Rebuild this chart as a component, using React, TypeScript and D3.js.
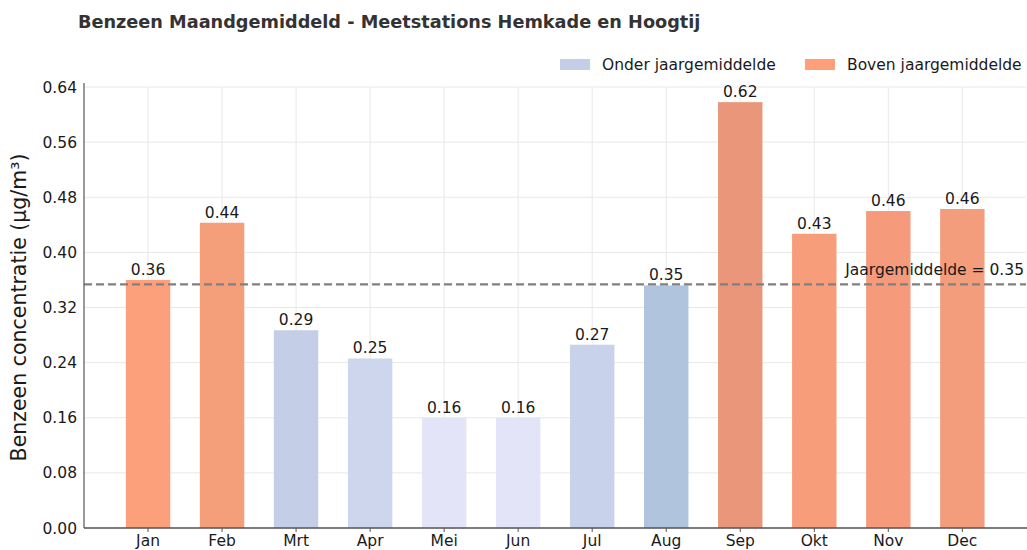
import React, {useEffect, useRef} from 'react';
import * as d3 from 'd3';

const months = ['Jan', 'Feb', 'Mrt', 'Apr', 'Mei', 'Jun', 'Jul', 'Aug', 'Sep', 'Okt', 'Nov', 'Dec'];
const values = [0.36, 0.443, 0.287, 0.246, 0.16, 0.16, 0.266, 0.352, 0.618, 0.427, 0.46, 0.463];
const barColors = ['#FBA07A', '#F59E7A', '#C4CFE7', '#CED6EE', '#E3E4F7', '#E3E4F7', '#C8D2EB', '#B0C4DE', '#E9967A', '#F89D7A', '#F59B7B', '#F49D7C'];
const yTicks = [0, 0.08, 0.16, 0.24, 0.32, 0.40, 0.48, 0.56, 0.64];
const legendItems = [
    {label: 'Onder jaargemiddelde', color: '#C4CFE7'},
    {label: 'Boven jaargemiddelde', color: '#FFA07A'},
];

const W = 1027;
const H = 550;
const margin = {left: 84, right: 1, top: 80, bottom: 22};

export default function App() {
    const ref = useRef<SVGSVGElement>(null);

    useEffect(() => {
        const svg = d3.select(ref.current);
        svg.selectAll('*').remove();
        const font = 'DejaVu Sans, sans-serif';
        const fs = 15.5;

        const x = d3.scaleLinear().domain([-0.865, 11.86]).range([margin.left, W - margin.right]);
        const y = d3.scaleLinear().domain([0, 0.64]).range([H - margin.bottom, 87]);
        const mean = d3.mean(values) as number;
        const bw = x(0.6) - x(0);

        const g = svg.append('g');

        // grid
        g.selectAll('line.gy').data(yTicks).enter().append('line')
            .attr('x1', margin.left).attr('x2', W - margin.right)
            .attr('y1', d => y(d)).attr('y2', d => y(d))
            .attr('stroke', '#e8e8e8').attr('stroke-width', 1);
        g.selectAll('line.gx').data(months).enter().append('line')
            .attr('x1', (d, i) => x(i)).attr('x2', (d, i) => x(i))
            .attr('y1', y(0.64)).attr('y2', y(0))
            .attr('stroke', '#e8e8e8').attr('stroke-width', 1);

        // bars
        g.selectAll('rect.bar').data(values).enter().append('rect')
            .attr('x', (d, i) => x(i) - bw / 2)
            .attr('width', bw)
            .attr('y', d => y(d))
            .attr('height', d => y(0) - y(d))
            .attr('fill', (d, i) => barColors[i]);

        // value labels
        g.selectAll('text.val').data(values).enter().append('text')
            .attr('x', (d, i) => x(i))
            .attr('y', d => y(d) - 5)
            .attr('text-anchor', 'middle')
            .attr('font-family', font).attr('font-size', fs).attr('fill', '#1a1a1a')
            .text(d => d.toFixed(2));

        // mean line
        g.append('line')
            .attr('x1', margin.left).attr('x2', W - margin.right)
            .attr('y1', y(mean)).attr('y2', y(mean))
            .attr('stroke', '#808080').attr('stroke-width', 2.2)
            .attr('stroke-dasharray', '8,4');
        g.append('text')
            .attr('x', 1024).attr('y', y(mean) - 9)
            .attr('text-anchor', 'end')
            .attr('font-family', font).attr('font-size', fs).attr('fill', '#1a1a1a')
            .text(`Jaargemiddelde = ${mean.toFixed(2)}`);

        // axes
        g.append('line')
            .attr('x1', margin.left).attr('x2', margin.left)
            .attr('y1', y(0.64) - 4).attr('y2', y(0))
            .attr('stroke', '#555').attr('stroke-width', 1.2);
        g.append('line')
            .attr('x1', margin.left).attr('x2', W)
            .attr('y1', y(0)).attr('y2', y(0))
            .attr('stroke', '#555').attr('stroke-width', 1.5);

        g.selectAll('text.yt').data(yTicks).enter().append('text')
            .attr('x', margin.left - 7)
            .attr('y', d => y(d) + 5.5)
            .attr('text-anchor', 'end')
            .attr('font-family', font).attr('font-size', fs).attr('fill', '#1a1a1a')
            .text(d => d.toFixed(2));

        g.selectAll('line.xt').data(months).enter().append('line')
            .attr('x1', (d, i) => x(i)).attr('x2', (d, i) => x(i))
            .attr('y1', y(0)).attr('y2', y(0) + 4)
            .attr('stroke', '#555').attr('stroke-width', 1);
        g.selectAll('text.xl').data(months).enter().append('text')
            .attr('x', (d, i) => x(i))
            .attr('y', y(0) + 18)
            .attr('text-anchor', 'middle')
            .attr('font-family', font).attr('font-size', fs).attr('fill', '#1a1a1a')
            .text(d => d);

        // y label
        g.append('text')
            .attr('transform', `translate(26, ${(y(0) + y(0.64)) / 2}) rotate(-90)`)
            .attr('text-anchor', 'middle')
            .attr('font-family', font).attr('font-size', 20.5).attr('fill', '#1a1a1a')
            .text('Benzeen concentratie (µg/m³)');

        // title
        g.append('text')
            .attr('x', 78).attr('y', 28)
            .attr('font-family', font).attr('font-size', 17.7).attr('font-weight', 'bold')
            .attr('fill', '#333')
            .text('Benzeen Maandgemiddeld - Meetstations Hemkade en Hoogtij');

        // legend
        const lx = [560, 805];
        legendItems.forEach((item, i) => {
            g.append('rect')
                .attr('x', lx[i]).attr('y', 59).attr('width', 30).attr('height', 11)
                .attr('fill', item.color);
            g.append('text')
                .attr('x', lx[i] + 42).attr('y', 70)
                .attr('font-family', font).attr('font-size', fs).attr('fill', '#1a1a1a')
                .text(item.label);
        });
    }, []);

    return <svg ref={ref} width={W} height={H} style={{position: 'absolute', left: 0, top: 0}}/>;
}
